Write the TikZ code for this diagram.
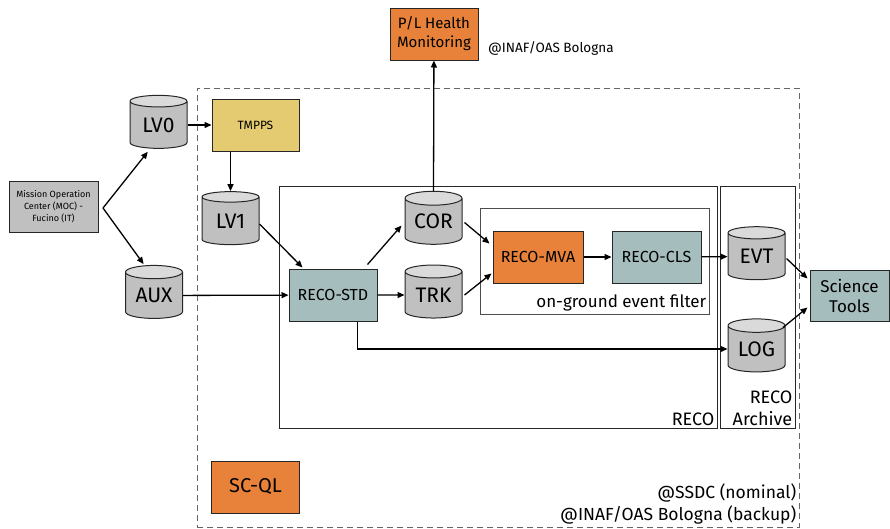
\documentclass[tikz,border=0pt]{standalone}
\usepackage{fontspec}
\setmainfont{Fira Sans}
\usetikzlibrary{shapes.geometric,arrows.meta,calc,positioning}

\definecolor{boxorange}{HTML}{E8823A}
\definecolor{boxyellow}{HTML}{E4CB72}
\definecolor{boxteal}{HTML}{A6BDBD}
\definecolor{boxgray}{HTML}{C0C0C0}
\definecolor{dbtop}{HTML}{DADADA}

\begin{document}
\begin{tikzpicture}[x=1pt,y=-1pt,>={Triangle[length=7pt,width=6pt]},
	db/.style={cylinder,shape border rotate=90,aspect=0.36,draw=black!85,line width=1pt,
		cylinder uses custom fill,cylinder body fill=boxgray,cylinder end fill=dbtop,
		minimum width=57pt,minimum height=53pt,inner sep=0pt,font=\fontsize{21}{22}\selectfont},
	proc/.style={rectangle,draw=black!85,line width=1pt,minimum width=88pt,minimum height=52pt,
		inner sep=2pt,align=center,font=\fontsize{16}{18}\selectfont},
	frame/.style={rectangle,draw=black!85,line width=0.9pt,inner sep=0pt},
	tag/.style={inner sep=3pt,align=right,font=\fontsize{18}{22}\selectfont},
	link/.style={->,line width=1.3pt}]
	\useasboundingbox (0,0) rectangle (890,528);
	
	% site frames
	\node[frame,draw=black!60,dashed,dash pattern=on 6pt off 4pt,minimum width=602pt,minimum height=439pt] (ssdc) at (498,307.5) {};
	\node[frame,minimum width=438pt,minimum height=242pt] (reco) at (498,307) {};
	\node[frame,minimum width=75pt,minimum height=242pt] (arch) at (757.5,307) {};
	\node[frame,draw=black!70,minimum width=229pt,minimum height=106pt] (filt) at (594.5,261) {};
	\node[tag,anchor=south east] at (reco.south east) {RECO};
	\node[tag,anchor=south east] at (arch.south east) {RECO\\Archive};
	\node[tag,anchor=south east,font=\fontsize{17}{20}\selectfont] at (filt.south east) {on-ground event filter};
	\node[tag,anchor=south east,font=\fontsize{17.5}{22}\selectfont] at (ssdc.south east) {@SSDC (nominal)\\@INAF/OAS Bologna (backup)};
	
	% processing
	\node[proc,fill=boxgray,font=\fontsize{9}{12}\selectfont,minimum width=89pt,minimum height=51pt] (moc) at (53.5,206.5) {Mission Operation\\Center (MOC) -\\Fucino (IT)};
	\node[proc,fill=boxyellow,font=\fontsize{12}{14}\selectfont,minimum width=87pt] (tmpps) at (255.5,125) {TMPPS};
	\node[proc,fill=boxteal] (std) at (333,295) {RECO-STD};
	\node[proc,fill=boxorange,minimum width=90pt] (mva) at (538,257) {RECO-MVA};
	\node[proc,fill=boxteal,minimum width=89pt] (cls) at (656.5,257) {RECO-CLS};
	\node[proc,fill=boxteal,minimum width=79pt,minimum height=51pt,font=\fontsize{17}{20}\selectfont] (sci) at (849.5,295.5) {Science\\Tools};
	\node[proc,fill=boxorange,minimum width=88pt,font=\fontsize{20}{22}\selectfont] (scql) at (255.5,487) {SC-QL};
	\node[proc,fill=boxorange,minimum width=88pt,font=\fontsize{15}{19}\selectfont] (plhm) at (434,34) {P/L Health\\Monitoring};
	\node[anchor=west,inner sep=0pt,font=\fontsize{13.5}{16}\selectfont] (inaf) at (488,48) {@INAF/OAS Bologna};
	
	% data
	\node[db] (lv0) at (158.5,125) {LV0};
	\node[db] (lv1) at (230.5,221) {LV1};
	\node[db] (aux) at (154,295.5) {AUX};
	\node[db] (cor) at (433.5,221.5) {COR};
	\node[db] (trk) at (433.5,295) {TRK};
	\node[db] (evt) at (756.5,256.5) {EVT};
	\node[db] (log) at (756.5,349) {LOG};
	\coordinate (fork) at (103,208);
	
	\path[link]
	(fork) edge ($(lv0.south west)+(11,5)$)
	(fork) edge ($(aux.north west)+(16,-5)$)
	(lv0) edge (tmpps)
	(tmpps.south -| lv1.north) edge (lv1)
	(aux) edge (std)
	($(lv1.east)+(0,3)$) edge ($(std.north west)+(14,-1)$)
	($(std.north east)+(-10,-4)$) edge ($(cor.west)+(-3,4)$)
	(std) edge (trk)
	($(cor.east)+(2,1)$) edge ($(mva.north west)+(-3,13)$)
	($(trk.east)+(2,0)$) edge ($(mva.south west)+(-1,-10)$)
	(mva) edge (cls)
	(cls) edge (evt)
	(cor.north) edge (plhm)
	($(evt.east)+(1,2)$) edge ($(sci.west)+(-2,-17)$)
	($(log.north east)+(0,5)$) edge ($(sci.west)+(-2,12)$);
	\draw[link] ($(std.south east)+(-20,0)$) |- (log);
	
\end{tikzpicture}
\end{document}
